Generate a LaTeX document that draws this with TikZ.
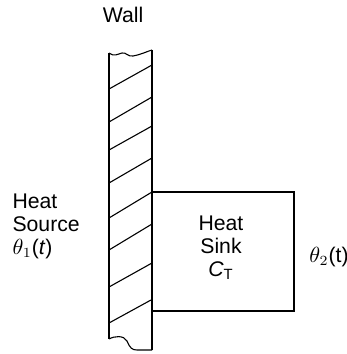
\documentclass[tikz,border=0pt]{standalone}
\usepackage{fontspec}
\setmainfont{Liberation Sans}
\usepackage{tikz}
\usetikzlibrary{positioning}

\begin{document}
\begin{tikzpicture}[
  x=0.5pt, y=-0.5pt,
  every node/.style={font=\fontsize{10.6}{11.5}\selectfont, inner sep=0pt},
  line width=0.55pt
]
  \useasboundingbox (0,0) rectangle (347,354);

  % wall
  \draw (109,53) .. controls (114,57) and (118,54) .. (122,53)
        .. controls (126,52) and (128,57) .. (133,56)
        .. controls (140,55) and (148,51) .. (152,50);
  \draw (109,53) -- (109,339);
  \draw (152,50) -- (152,350);
  \draw (109,339) .. controls (114,336) and (124,335) .. (127,341)
        .. controls (130,348) and (132,350) .. (137,350) -- (152,350);
  \draw (109,89)--(152,65);   \draw (109,122)--(152,97);
  \draw (109,150)--(152,126); \draw (109,183)--(152,158);
  \draw (109,218)--(152,192); \draw (109,250)--(152,224);
  \draw (109,287)--(152,263); \draw (109,323)--(151,300);
  \node (wall) at (123,15) {Wall};

  % sink
  \draw (152,192) rectangle (294,311);
  \node[align=center] (sink) at (221,248) {Heat\\Sink\\\textit{C}\textsubscript{T}};
  \node (theta2) at (329,257) {$\theta_2$(t)};

  % source
  \node[align=left,anchor=west] (source) at (12,226) {Heat\\Source\\$\theta_1$(\textit{t})};
\end{tikzpicture}
\end{document}
